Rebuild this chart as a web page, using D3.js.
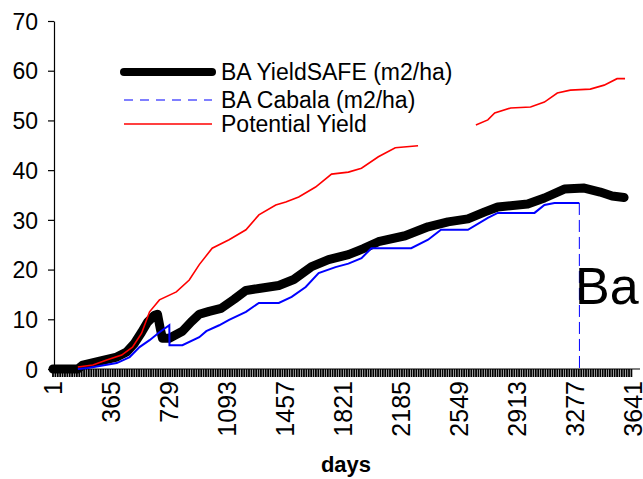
<!DOCTYPE html>
<html>
<head>
<meta charset="utf-8">
<script src="https://cdn.jsdelivr.net/npm/d3@7"></script>
<style>
  html, body { margin: 0; padding: 0; background: #fff; }
  svg { display: block; font-family: "Liberation Sans", Arial, sans-serif; }
</style>
</head>
<body>
<svg id="chart" width="643" height="479"></svg>
<script>
// Basal area over the simulation period (days), m2/ha
const yieldSafeDays = [1, 157, 188, 294, 401, 463, 513, 557, 594, 638, 657, 675, 688, 731, 813, 869, 919, 981, 1056, 1137, 1212, 1293, 1418, 1512, 1624, 1730, 1855, 1949, 2043, 2211, 2355, 2480, 2605, 2711, 2792, 2980, 3085, 3210, 3335, 3435, 3510, 3585];
const yieldSafeValues = [0, 0, 0.8, 1.6, 2.4, 3.4, 5.2, 7.4, 9.4, 10.8, 11.0, 8.0, 6.2, 6.2, 7.6, 9.5, 11.0, 11.6, 12.2, 14.0, 15.8, 16.2, 16.8, 18.0, 20.6, 22.0, 23.0, 24.2, 25.6, 26.8, 28.6, 29.6, 30.2, 31.6, 32.6, 33.2, 34.4, 36.2, 36.4, 35.6, 34.8, 34.5];

const cabalaDays = [157, 219, 294, 401, 482, 544, 607, 669, 731, 732, 813, 919, 963, 1044, 1106, 1212, 1293, 1418, 1499, 1587, 1668, 1774, 1855, 1937, 1999, 2249, 2355, 2436, 2605, 2730, 2792, 3023, 3085, 3148, 3304, 3305, 3641];
const cabalaValues = [0, 0.2, 0.6, 1.2, 2.4, 4.4, 5.8, 7.4, 8.8, 4.8, 4.8, 6.4, 7.6, 8.8, 9.9, 11.5, 13.3, 13.3, 14.5, 16.5, 19.3, 20.5, 21.2, 22.3, 24.3, 24.3, 26.0, 28.0, 28.0, 30.4, 31.4, 31.4, 33.0, 33.4, 33.4, 0, 0];

const potentialDays = [157, 251, 338, 432, 500, 557, 607, 669, 775, 856, 919, 1000, 1106, 1212, 1293, 1399, 1462, 1543, 1649, 1749, 1855, 1937, 2043, 2149, 2292, 2293, 2655, 2730, 2773, 2873, 2998, 3085, 3166, 3248, 3373, 3460, 3541, 3591];
const potentialValues = [0.4, 0.8, 1.8, 2.8, 4.4, 7.2, 11.5, 13.9, 15.5, 17.9, 21.0, 24.3, 26.0, 28.0, 31.0, 33.0, 33.6, 34.6, 36.6, 39.2, 39.6, 40.4, 42.7, 44.5, 44.9, null, 49.1, 50.1, 51.5, 52.5, 52.7, 53.7, 55.5, 56.1, 56.3, 57.1, 58.4, 58.4];

const seriesNames = ["BA YieldSAFE (m2/ha)", "BA Cabala (m2/ha)", "Potential Yield"];
const xTickLabels = [1, 365, 729, 1093, 1457, 1821, 2185, 2549, 2913, 3277, 3641];
const yTickLabels = [0, 10, 20, 30, 40, 50, 60, 70];
const xTitle = "days";
const sideLabel = "Ba";

const svg = d3.select("#chart");
const font = '"Liberation Sans", Arial, sans-serif';

const x = d3.scaleLinear().domain([1, 3641]).range([53, 633]);
const y = d3.scaleLinear().domain([0, 70]).range([369, 21]);

const zip = (ds, vs) => ds.map((d, i) => ({ d, v: vs[i] }));
const yieldSafe = zip(yieldSafeDays, yieldSafeValues);
const cabala = zip(cabalaDays, cabalaValues);
const potential = zip(potentialDays, potentialValues);

// y axis
const yAxis = d3.axisLeft(y).tickValues(yTickLabels).tickSize(6).tickPadding(10).tickSizeOuter(0);
const gy = svg.append("g").attr("transform", "translate(54,0)").call(yAxis);
gy.select(".domain").attr("stroke", "#000").attr("stroke-width", 1.2);
gy.selectAll(".tick line").attr("stroke", "#000").attr("stroke-width", 1.2);
gy.selectAll(".tick text").attr("font-size", 23).attr("font-family", font).attr("fill", "#000").attr("dy", "0.36em");

// x axis: dense category tick marks, labels every 364 days
const minorTicks = d3.range(1, 3642, 15);
const gx = svg.append("g").attr("transform", "translate(0,369)");
gx.append("line").attr("x1", 54).attr("x2", 640).attr("y1", 0).attr("y2", 0).attr("stroke", "#000").attr("stroke-width", 1.2);
gx.selectAll("line.mt").data(minorTicks).join("line")
  .attr("class", "mt")
  .attr("x1", d => x(d)).attr("x2", d => x(d))
  .attr("y1", 0).attr("y2", 8)
  .attr("stroke", "#000").attr("stroke-width", 1.8);
gx.selectAll("text.lab").data(xTickLabels).join("text")
  .attr("class", "lab")
  .attr("transform", d => `translate(${x(d)},12) rotate(-90)`)
  .attr("text-anchor", "end")
  .attr("dy", "0.34em")
  .attr("font-size", 25)
  .attr("font-family", font)
  .text(d => d);

svg.append("text")
  .attr("x", 346).attr("y", 472)
  .attr("text-anchor", "middle")
  .attr("font-size", 22).attr("font-weight", "bold")
  .attr("font-family", font)
  .text(xTitle);

// series
const line = d3.line().defined(p => p.v !== null).x(p => x(p.d)).y(p => y(p.v));

svg.append("path").datum(yieldSafe)
  .attr("d", line).attr("fill", "none")
  .attr("stroke", "#000").attr("stroke-width", 9)
  .attr("stroke-linecap", "round").attr("stroke-linejoin", "round");

// Cabala: daily points make the dashed style read as solid, except the long final drop
const dropStart = cabala.findIndex((p, i) => i > 0 && p.v === 0 && cabala[i - 1].v > 0);
svg.append("path").datum(cabala.slice(0, dropStart))
  .attr("d", line).attr("fill", "none")
  .attr("stroke", "#0000ff").attr("stroke-width", 2);
svg.append("path").datum(cabala.slice(dropStart - 1, dropStart + 1))
  .attr("d", line).attr("fill", "none")
  .attr("stroke", "#0000ff").attr("stroke-width", 1).attr("stroke-dasharray", "12,5");

svg.append("path").datum(potential)
  .attr("d", line).attr("fill", "none")
  .attr("stroke", "#ff0000").attr("stroke-width", 1.6);

// legend
const legendStyles = [
  { color: "#000", width: 8, dash: null, cap: "round" },
  { color: "#0000ff", width: 1.2, dash: "9,7", cap: "butt" },
  { color: "#ff0000", width: 1.5, dash: null, cap: "butt" }
];
const legendY = [72, 100, 124];
const lg = svg.append("g");
seriesNames.forEach((name, i) => {
  const s = legendStyles[i];
  lg.append("line")
    .attr("x1", 124).attr("x2", 212).attr("y1", legendY[i]).attr("y2", legendY[i])
    .attr("stroke", s.color).attr("stroke-width", s.width)
    .attr("stroke-linecap", s.cap)
    .attr("stroke-dasharray", s.dash);
  lg.append("text")
    .attr("x", 221).attr("y", legendY[i]).attr("dy", "0.36em")
    .attr("font-size", 23).attr("font-family", font)
    .text(name);
});

svg.append("text")
  .attr("x", 575).attr("y", 304)
  .attr("font-size", 52).attr("font-family", font)
  .text(sideLabel);
</script>
</body>
</html>
